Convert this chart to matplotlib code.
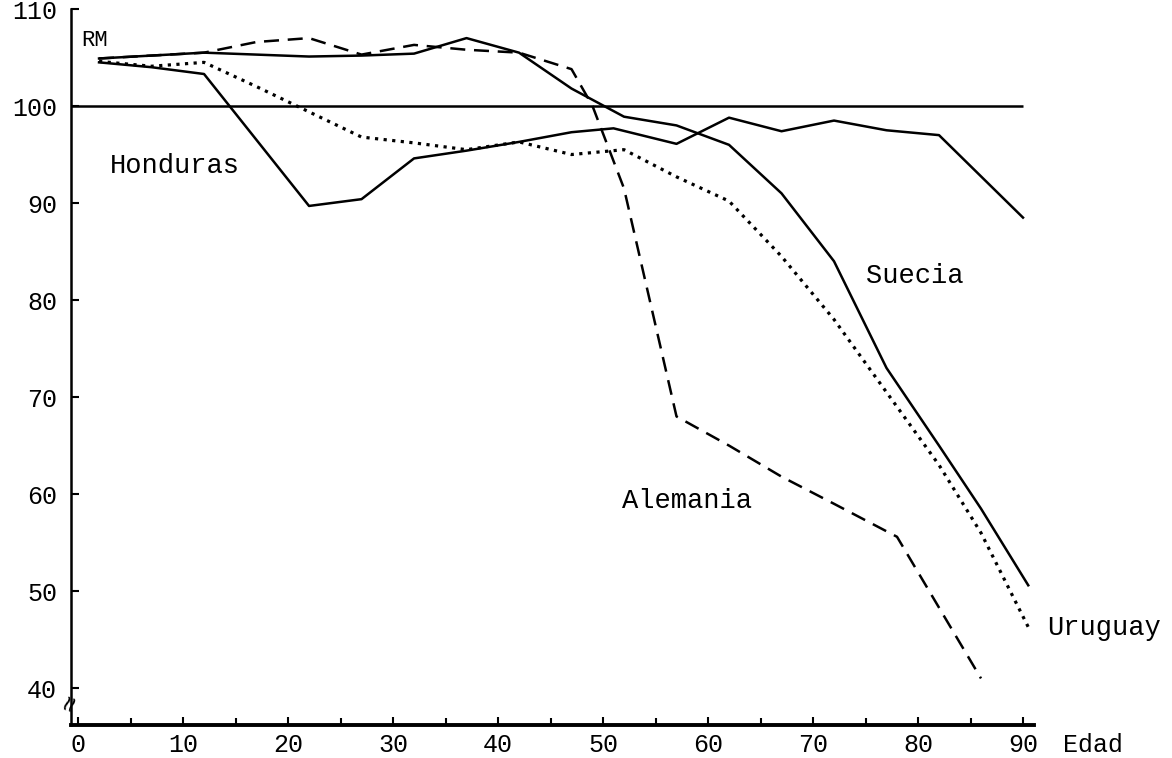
import matplotlib
matplotlib.use("Agg")
import matplotlib.pyplot as plt

plt.rcParams['font.family'] = ['Liberation Mono', 'DejaVu Sans']

# razón de masculinidad (RM) por edad
ages_suecia = [2, 7, 12, 17, 22, 27, 32, 37, 42, 47, 52, 57, 62, 67, 72, 77, 82, 86, 90.5]
suecia = [104.9, 105.2, 105.5, 105.3, 105.1, 105.2, 105.4, 107.0, 105.5, 101.8,
          98.9, 98.0, 96.0, 91.0, 84.0, 73.0, 65.0, 58.5, 50.6]

ages_honduras = [2, 7, 12, 22, 27, 32, 37, 42, 47, 51, 57, 62, 67, 72, 77, 82, 90]
honduras = [104.5, 104.0, 103.3, 89.7, 90.4, 94.6, 95.4, 96.3, 97.3, 97.7,
            96.1, 98.8, 97.4, 98.5, 97.5, 97.0, 88.5]

ages_uruguay = [2, 7, 12, 17, 22, 27, 32, 37, 42, 47, 52, 57, 62, 67, 72, 77, 82, 86, 90.5]
uruguay = [104.6, 104.1, 104.5, 102.0, 99.4, 96.8, 96.2, 95.5, 96.3, 95.0,
           95.5, 92.7, 90.2, 84.5, 78.0, 70.5, 63.0, 56.0, 46.3]

ages_alemania = [2, 7, 12, 17, 22, 27, 32, 37, 42, 47, 49, 52, 57, 62, 67, 72, 78, 86]
alemania = [104.9, 105.2, 105.5, 106.6, 107.0, 105.3, 106.3, 105.8, 105.5, 103.8,
            100.0, 91.5, 68.0, 65.0, 61.8, 59.0, 55.6, 41.0]

yticks = [40, 50, 60, 70, 80, 90, 100, 110]
xticks = [0, 10, 20, 30, 40, 50, 60, 70, 80, 90]
ref_value = 100

fig = plt.figure(figsize=(11.72, 7.58), dpi=100)
ax = fig.add_axes([71 / 1172, 33 / 758, (1033.5 - 71) / 1172, (725 - 9) / 758])
ax.set_xlim(-0.67, 91)
ax.set_ylim(36.2, 110)

ax.hlines(ref_value, -0.67, 90, color='black', lw=1.8)
ax.plot(ages_honduras, honduras, color='black', lw=1.8)
ax.plot(ages_suecia, suecia, color='black', lw=1.8)
ax.plot(ages_alemania, alemania, color='black', lw=1.8, ls=(0, (6, 3.5)))
ax.plot(ages_uruguay, uruguay, color='black', lw=2.3, ls=(0, (1, 1.7)))

for s in ['top', 'right']:
    ax.spines[s].set_visible(False)
ax.spines['left'].set_linewidth(1.8)
ax.spines['bottom'].set_linewidth(2.8)

ax.set_yticks(yticks)
ax.set_xticks(xticks)
ax.set_xticks(range(5, 90, 10), minor=True)
ax.tick_params(axis='y', direction='in', length=6, width=1.5, pad=10, labelsize=18)
ax.tick_params(axis='x', which='major', direction='in', length=6, width=1.5, pad=6, labelsize=18)
ax.tick_params(axis='x', which='minor', direction='in', length=5, width=1.5)

# rótulos
ax.text(0.3, 106.8, 'RM', fontsize=16, ha='left', va='center')
ax.text(3, 93.8, 'Honduras', fontsize=19.5, ha='left', va='center')
ax.text(75, 82.5, 'Suecia', fontsize=19.5, ha='left', va='center')
ax.text(58, 59.3, 'Alemania', fontsize=19.5, ha='center', va='center')
ax.text(92.3, 46.2, 'Uruguay', fontsize=19.5, ha='left', va='center', clip_on=False)
ax.text(93.8, -0.028, 'Edad', fontsize=18, ha='left', va='center',
        transform=ax.get_xaxis_transform(), clip_on=False)
ax.text(-0.67, 38.4, '≈', fontsize=20, rotation=70, ha='center', va='center', clip_on=False)

fig.savefig('out.png', dpi=100, facecolor='white')
